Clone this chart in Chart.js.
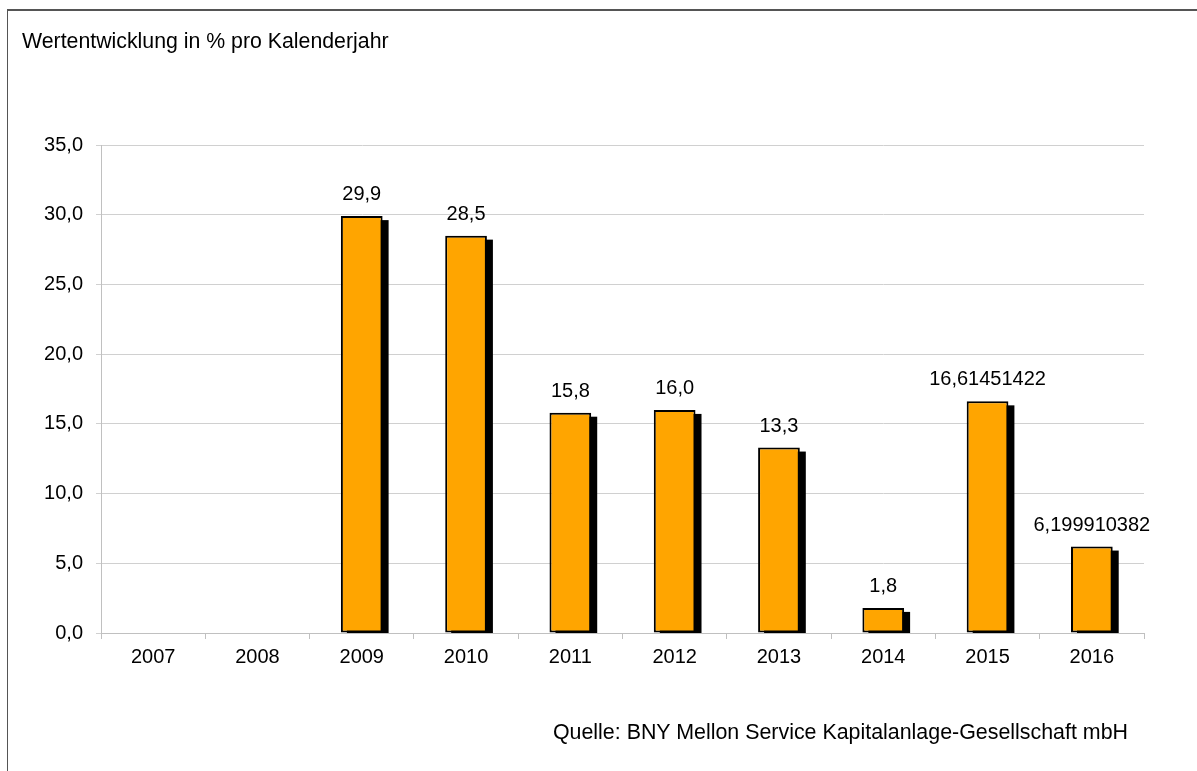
<!DOCTYPE html>
<html>
<head>
<meta charset="utf-8">
<script src="https://cdn.jsdelivr.net/npm/chart.js@4/dist/chart.umd.min.js"></script>
<style>
  body { margin: 0; background: #fff; }
  #frame {
    position: absolute; left: 7px; top: 9px; width: 1200px; height: 800px;
    border-left: 1px solid #555; border-top: 2px solid #555;
  }
  #wrap { position: absolute; left: 0; top: 0; width: 1197px; height: 771px; }
  .txt { position: absolute; font-family: "Liberation Sans", Arial, sans-serif; font-size: 21.3px; line-height: 1; color: #000; white-space: nowrap; }
  #title { left: 22px; top: 31px; }
  #source { right: 69px; top: 722px; font-size: 21.4px; }
</style>
</head>
<body>
<div id="frame"></div>
<div id="wrap"><canvas id="perf-chart"></canvas></div>
<div class="txt" id="title">Wertentwicklung in % pro Kalenderjahr</div>
<div class="txt" id="source">Quelle: BNY Mellon Service Kapitalanlage-Gesellschaft mbH</div>
<script>
// Jahre und Wertentwicklung in %
const years = ['2007', '2008', '2009', '2010', '2011', '2012', '2013', '2014', '2015', '2016'];
const performance = [null, null, 29.9, 28.5, 15.8, 16.0, 13.3, 1.8, 16.61451422, 6.199910382];
const valueLabels = ['', '', '29,9', '28,5', '15,8', '16,0', '13,3', '1,8', '16,61451422', '6,199910382'];
const yTicks = [0, 5, 10, 15, 20, 25, 30, 35];

const fontName = '"Liberation Sans", Arial, sans-serif';

// black drop shadow behind the bars (drawn before the bars)
const barShadow = {
    id: 'barShadow',
    beforeDatasetsDraw(chart) {
        const c = chart.ctx;
        const area = chart.chartArea;
        const meta = chart.getDatasetMeta(0);
        c.save();
        c.beginPath();
        c.rect(area.left, area.top, area.right - area.left, area.bottom - area.top);
        c.clip();
        c.fillStyle = '#000';
        meta.data.forEach((bar, i) => {
            if (performance[i] === null) return;
            const p = bar.getProps(['x', 'y', 'base', 'width'], true);
            c.fillRect(p.x - p.width / 2 + 6, p.y + 4, p.width, p.base - p.y);
        });
        c.restore();
    }
};

// value labels over the bars
const barLabels = {
    id: 'barLabels',
    afterDraw(chart) {
        const c = chart.ctx;
        const meta = chart.getDatasetMeta(0);
        c.save();
        c.font = '20px ' + fontName;
        c.fillStyle = '#000';
        c.textAlign = 'center';
        c.textBaseline = 'alphabetic';
        meta.data.forEach((bar, i) => {
            if (performance[i] === null) return;
            c.fillText(valueLabels[i], bar.x, bar.y - 16);
        });
        c.restore();
    }
};

const ctx = document.getElementById('perf-chart').getContext('2d');
const perfChart = new Chart(ctx, {
    type: 'bar',
    data: {
        labels: years,
        datasets: [{
            data: performance,
            backgroundColor: '#FFA500',
            borderColor: '#000',
            borderWidth: 2,
            borderSkipped: false,
            barPercentage: 0.4,
            categoryPercentage: 1.0
        }]
    },
    options: {
        responsive: true,
        maintainAspectRatio: false,
        animation: false,
        events: [],
        layout: { padding: { left: 0, right: 53, top: 145, bottom: 0 } },
        plugins: {
            legend: { display: false },
            tooltip: { enabled: false }
        },
        scales: {
            x: {
                afterFit(scale) { scale.height = 138; },
                border: { color: '#c0c0c0', width: 1 },
                grid: {
                    offset: true,
                    drawOnChartArea: false,
                    drawTicks: true,
                    tickLength: 6,
                    color: '#c0c0c0'
                },
                ticks: {
                    color: '#000',
                    padding: 6,
                    font: { family: fontName, size: 20 }
                }
            },
            y: {
                min: 0,
                max: 35,
                afterFit(scale) { scale.width = 101; },
                afterBuildTicks(scale) {
                    scale.ticks = yTicks.map(v => ({ value: v }));
                },
                border: { color: '#c0c0c0', width: 1 },
                grid: {
                    color: '#d0d0d0',
                    tickLength: 5
                },
                ticks: {
                    color: '#000',
                    padding: 13,
                    font: { family: fontName, size: 20 },
                    callback: v => v.toFixed(1).replace('.', ',')
                }
            }
        }
    },
    plugins: [barShadow, barLabels]
});
</script>
</body>
</html>
